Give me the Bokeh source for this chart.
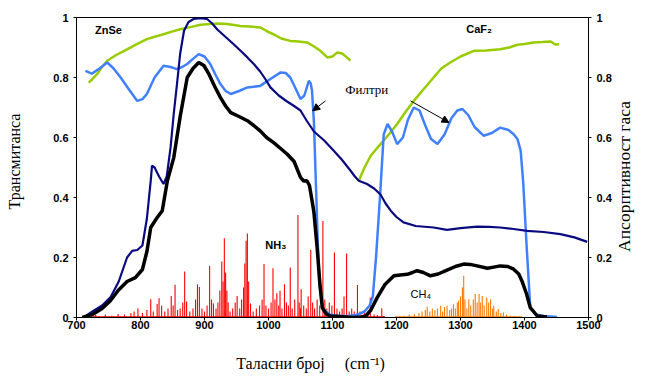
import math
from bokeh.plotting import figure
from bokeh.models import (Range1d, LinearAxis, FixedTicker, CustomJSTickFormatter,
                          Label, Arrow, NormalHead)
from bokeh.embed import file_html
from bokeh.resources import INLINE

# ---------------- data ----------------
navy_x = [711, 725, 740, 753, 766, 779, 787, 795, 803, 810, 816, 818, 822, 829, 836, 841, 847, 852, 857, 862,
          868, 875, 883, 893, 904, 912, 920, 933, 946, 956, 967, 977, 987, 995, 1003, 1016, 1029, 1040, 1050,
          1060, 1071, 1087, 1102, 1115, 1128, 1135, 1141, 1154, 1165, 1175, 1183, 1191, 1200, 1211, 1230,
          1258, 1279, 1300, 1326, 1345, 1362, 1383, 1404, 1430, 1456, 1478, 1498]
navy_y = [0, 0.02, 0.04, 0.067, 0.12, 0.2, 0.222, 0.225, 0.24, 0.33, 0.456, 0.506, 0.5, 0.47, 0.445, 0.47,
          0.567, 0.68, 0.778, 0.88, 0.956, 0.985, 0.995, 0.998, 0.995, 0.98, 0.96, 0.935, 0.91, 0.89, 0.867,
          0.845, 0.82, 0.795, 0.767, 0.74, 0.72, 0.705, 0.69, 0.655, 0.62, 0.59, 0.556, 0.525, 0.49, 0.47,
          0.456, 0.445, 0.43, 0.41, 0.38, 0.356, 0.335, 0.317, 0.305, 0.30, 0.292, 0.298, 0.303, 0.302, 0.30,
          0.295, 0.289, 0.285, 0.278, 0.267, 0.252]

blue_x = [714, 724, 736, 748, 758, 769, 782, 795, 803, 810, 822, 836, 847, 857, 865, 873, 882, 891, 900, 909,
          917, 925, 933, 941, 954, 967, 987, 1003, 1019, 1027, 1034, 1042, 1050, 1056, 1063, 1066, 1068, 1071,
          1074, 1077, 1080, 1085, 1095, 1110, 1125, 1140, 1150, 1158, 1163, 1168, 1172, 1175, 1180, 1186,
          1193, 1201, 1210, 1218, 1227, 1236, 1245, 1254, 1264, 1275, 1286, 1295, 1303, 1312, 1322, 1336,
          1349, 1362, 1375, 1383, 1389, 1394, 1398, 1403, 1409, 1418, 1430, 1451]
blue_y = [0.822, 0.813, 0.83, 0.85, 0.83, 0.8, 0.76, 0.722, 0.728, 0.745, 0.8, 0.839, 0.835, 0.828, 0.835,
          0.845, 0.862, 0.878, 0.87, 0.845, 0.81, 0.778, 0.755, 0.745, 0.755, 0.767, 0.772, 0.795, 0.817,
          0.815, 0.8, 0.765, 0.728, 0.74, 0.789, 0.78, 0.756, 0.65, 0.45, 0.25, 0.1, 0.03, 0.01, 0.005, 0.005,
          0.01, 0.02, 0.04, 0.07, 0.2, 0.33, 0.43, 0.61, 0.645, 0.62, 0.578, 0.6, 0.66, 0.70, 0.69, 0.64,
          0.595, 0.578, 0.61, 0.665, 0.69, 0.695, 0.675, 0.635, 0.606, 0.615, 0.633, 0.625, 0.611, 0.595,
          0.556, 0.45, 0.25, 0.033, 0.01, 0.005, 0.002]

black_x = [709, 725, 740, 753, 765, 779, 792, 803, 810, 816, 825, 834, 842, 852, 862, 873, 882, 891, 899, 907,
           916, 925, 933, 941, 954, 967, 977, 987, 997, 1008, 1018, 1029, 1040, 1050, 1055, 1060, 1064, 1068,
           1071, 1076, 1080, 1084, 1090, 1097, 1107, 1120, 1133, 1145, 1152, 1160, 1170, 1182, 1196, 1206,
           1217, 1225, 1232, 1242, 1253, 1265, 1279, 1292, 1305, 1315, 1326, 1342, 1352, 1362, 1374, 1383,
           1391, 1396, 1403, 1409, 1420, 1435]
black_y = [0, 0.01, 0.03, 0.056, 0.09, 0.12, 0.133, 0.16, 0.22, 0.3, 0.33, 0.356, 0.456, 0.533, 0.67, 0.8,
           0.83, 0.85, 0.84, 0.811, 0.77, 0.733, 0.705, 0.683, 0.67, 0.656, 0.64, 0.622, 0.6, 0.583, 0.565,
           0.545, 0.52, 0.467, 0.455, 0.456, 0.44, 0.39, 0.35, 0.233, 0.12, 0.033, 0.012, 0.005, 0.004, 0.002,
           0, 0.002, 0.005, 0.025, 0.067, 0.11, 0.139, 0.142, 0.144, 0.15, 0.156, 0.15, 0.139, 0.145, 0.158,
           0.17, 0.178, 0.177, 0.172, 0.164, 0.168, 0.172, 0.17, 0.161, 0.145, 0.122, 0.08, 0.033, 0.005, 0.002]

znse_x = [719, 725, 732, 740, 748, 762, 779, 795, 810, 822, 836, 849, 862, 878, 894, 909, 922, 935, 946, 956,
          970, 987, 997, 1008, 1020, 1034, 1047, 1060, 1070, 1081, 1092, 1100, 1107, 1115, 1122, 1128]
znse_y = [0.783, 0.795, 0.811, 0.835, 0.856, 0.875, 0.894, 0.912, 0.928, 0.936, 0.944, 0.953, 0.961, 0.968,
          0.976, 0.978, 0.98, 0.978, 0.975, 0.972, 0.97, 0.967, 0.955, 0.944, 0.93, 0.922, 0.92, 0.917, 0.905,
          0.889, 0.867, 0.87, 0.883, 0.88, 0.868, 0.856]

caf2_x = [1141, 1150, 1160, 1175, 1188, 1201, 1214, 1227, 1242, 1258, 1270, 1284, 1300, 1321, 1340, 1362,
          1376, 1389, 1400, 1414, 1428, 1441, 1448, 1454]
caf2_y = [0.456, 0.5, 0.54, 0.578, 0.61, 0.645, 0.685, 0.722, 0.76, 0.8, 0.83, 0.85, 0.87, 0.889, 0.89, 0.894,
          0.9, 0.909, 0.912, 0.917, 0.918, 0.92, 0.91, 0.911]

nh3_x = [730, 745, 755, 765, 775, 785, 790, 796, 803, 810, 816, 820, 826, 829, 833, 838, 843, 848, 851, 854,
         858, 862, 866, 869, 872, 877, 882, 886, 889, 892, 896, 900, 904, 908, 911, 914, 918, 921, 924, 927,
         929, 931, 933, 935, 937, 940, 944, 948, 951, 955, 958, 961, 963, 965, 967, 969, 972, 976, 981, 986,
         990, 993, 996, 1000, 1004, 1007, 1010, 1013, 1016, 1018, 1021, 1025, 1028, 1031, 1034, 1037, 1041,
         1046, 1048, 1050, 1051, 1055, 1059, 1062, 1066, 1069, 1072, 1076, 1080, 1085, 1088, 1091, 1095,
         1099, 1103, 1107, 1111, 1115, 1118, 1122, 1126, 1130, 1134, 1139, 1143, 1150, 1159, 1165, 1170,
         1177, 1180]
nh3_y = [0.008, 0.01, 0.006, 0.012, 0.01, 0.015, 0.02, 0.031, 0.015, 0.025, 0.061, 0.02, 0.045, 0.064, 0.039,
         0.02, 0.03, 0.072, 0.04, 0.109, 0.025, 0.03, 0.05, 0.153, 0.053, 0.02, 0.03, 0.06, 0.111, 0.102, 0.03,
         0.02, 0.04, 0.172, 0.06, 0.047, 0.03, 0.05, 0.09, 0.187, 0.12, 0.264, 0.15, 0.09, 0.05, 0.02, 0.03,
         0.05, 0.072, 0.03, 0.06, 0.1, 0.18, 0.256, 0.28, 0.12, 0.047, 0.02, 0.03, 0.04, 0.06, 0.178, 0.04,
         0.03, 0.05, 0.164, 0.06, 0.081, 0.04, 0.089, 0.03, 0.111, 0.05, 0.04, 0.167, 0.03, 0.06, 0.342, 0.05,
         0.031, 0.094, 0.04, 0.03, 0.07, 0.226, 0.05, 0.03, 0.06, 0.04, 0.322, 0.06, 0.03, 0.05, 0.04, 0.217,
         0.03, 0.02, 0.03, 0.07, 0.213, 0.02, 0.03, 0.02, 0.108, 0.02, 0.015, 0.067, 0.01, 0.008, 0.031, 0.005]

ch4_x = [1205, 1212, 1220, 1228, 1235, 1240, 1245, 1248, 1252, 1256, 1260, 1264, 1269, 1272, 1275, 1279, 1283,
         1286, 1289, 1292, 1295, 1297, 1300, 1303, 1305, 1307, 1310, 1313, 1316, 1320, 1323, 1326, 1329, 1331,
         1334, 1337, 1341, 1344, 1347, 1350, 1352, 1356, 1359, 1363, 1367, 1372, 1378, 1385, 1392]
ch4_y = [0.004, 0.006, 0.01, 0.012, 0.015, 0.02, 0.025, 0.036, 0.02, 0.03, 0.025, 0.03, 0.039, 0.02, 0.035,
         0.039, 0.025, 0.03, 0.044, 0.03, 0.05, 0.056, 0.07, 0.1, 0.139, 0.06, 0.03, 0.061, 0.04, 0.06, 0.078,
         0.05, 0.078, 0.05, 0.072, 0.04, 0.067, 0.05, 0.061, 0.03, 0.039, 0.02, 0.028, 0.015, 0.017, 0.01,
         0.006, 0.004, 0.003]

x_ticks = [700, 800, 900, 1000, 1100, 1200, 1300, 1400, 1500]
y_ticks = [0, 0.2, 0.4, 0.6, 0.8, 1]

NB = "\u00a0"

# ---------------- figure ----------------
p = figure(width=646, height=376, output_backend="svg", toolbar_location=None,
           x_range=Range1d(700, 1500), y_range=Range1d(0, 1),
           min_border_left=76, min_border_right=58, min_border_top=17, min_border_bottom=59)
p.extra_y_ranges = {"right": Range1d(0, 1)}
p.grid.visible = False
p.outline_line_color = "black"
p.outline_line_width = 1
p.background_fill_color = "white"
p.border_fill_color = "white"

fmt = CustomJSTickFormatter(code="return String(Math.round(tick*10)/10);")

def style_axis(ax):
    ax.axis_line_color = "black"
    ax.major_tick_line_color = "black"
    ax.major_tick_out = 3
    ax.major_tick_in = 0
    ax.minor_tick_line_color = None
    ax.major_label_text_font = "Liberation Sans"
    ax.major_label_text_font_style = "bold"
    ax.major_label_text_font_size = "11px"
    ax.major_label_text_color = "black"
    ax.major_label_standoff = 5
    ax.axis_label_text_font = "Liberation Serif"
    ax.axis_label_text_font_style = "normal"
    ax.axis_label_text_font_size = "16px"
    ax.axis_label_text_color = "black"

style_axis(p.xaxis[0])
p.xaxis[0].ticker = FixedTicker(ticks=x_ticks)
p.xaxis[0].major_label_standoff = 0
p.xaxis[0].axis_label = "Таласни број" + NB * 5 + "(cm⁻¹)" + NB * 11
p.xaxis[0].axis_label_standoff = 23

style_axis(p.yaxis[0])
p.yaxis[0].ticker = FixedTicker(ticks=y_ticks)
p.yaxis[0].formatter = fmt
p.yaxis[0].axis_label = NB * 3 + "Трансмитанса"
p.yaxis[0].axis_label_standoff = 27

ry = LinearAxis(y_range_name="right", ticker=FixedTicker(ticks=y_ticks), formatter=fmt)
style_axis(ry)
ry.axis_label_text_font_size = "17.5px"
ry.axis_label_orientation = math.pi / 2
ry.axis_label_standoff = 9
if "axis_label_align" in LinearAxis.properties():
    ry.axis_label_align = "start"
    ry.axis_label = NB * 15 + "Апсорптивност гаса"
else:
    ry.axis_label = "Апсорптивност гаса"
p.add_layout(ry, "right")

# spectra (absorbance)
p.segment(x0=[722], y0=[0.002], x1=[1182], y1=[0.002], color="#ff0000", line_width=1.2)
p.segment(x0=nh3_x, y0=[0] * len(nh3_x), x1=nh3_x, y1=nh3_y, color="#ff0000", line_width=1.1)
p.segment(x0=[1198], y0=[0.002], x1=[1396], y1=[0.002], color="#ff7a00", line_width=1.2)
p.segment(x0=ch4_x, y0=[0] * len(ch4_x), x1=ch4_x, y1=ch4_y, color="#ff7a00", line_width=1.1)

# transmittance curves
p.line(znse_x, znse_y, color="#99cc00", line_width=2.5)
p.line(caf2_x, caf2_y, color="#99cc00", line_width=2.5)
p.line(blue_x, blue_y, color="#4080ff", line_width=2.5)
p.line(navy_x, navy_y, color="#0a0a80", line_width=2.2)
p.line(black_x, black_y, color="black", line_width=3.5)

# text annotations
def lab(x, y, t, font="Liberation Sans", size="11px", style="bold", align="left"):
    p.add_layout(Label(x=x, y=y, text=t, text_font=font, text_font_size=size, text_font_style=style,
                       text_align=align, text_baseline="middle", text_color="black"))

lab(729, 0.959, "ZnSe")
lab(1309, 0.962, "CaF₂")
lab(1120, 0.759, "Филтри", font="Liberation Serif", size="13px", style="normal")
lab(995, 0.242, "NH₃")
lab(1222, 0.079, "CH₄", style="normal")

p.add_layout(Arrow(end=NormalHead(size=7, fill_color="black", line_color="black"),
                   x_start=1089, y_start=0.722, x_end=1069, y_end=0.689, line_width=1, line_color="black"))
p.add_layout(Arrow(end=NormalHead(size=7, fill_color="black", line_color="black"),
                   x_start=1222, y_start=0.722, x_end=1282, y_end=0.65, line_width=1, line_color="black"))

open("out.html", "w").write(file_html(p, INLINE))
